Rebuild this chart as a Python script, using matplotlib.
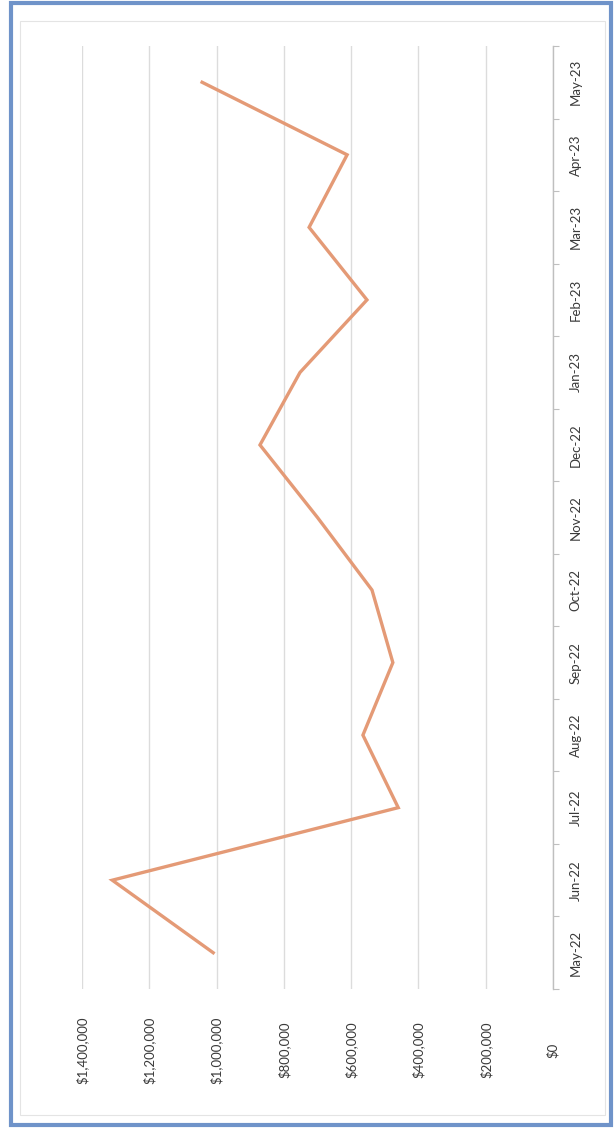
import matplotlib
matplotlib.use("Agg")
import matplotlib.pyplot as plt
from matplotlib.patches import Rectangle
import matplotlib.transforms as mtransforms

months = ["May-22", "Jun-22", "Jul-22", "Aug-22", "Sep-22", "Oct-22", "Nov-22",
          "Dec-22", "Jan-23", "Feb-23", "Mar-23", "Apr-23", "May-23"]
values = [1010000, 1310000, 460000, 565000, 476000, 538000, 700000,
          871000, 752000, 553000, 725000, 612000, 1043000]
value_ticks = [0, 200000, 400000, 600000, 800000, 1000000, 1200000, 1400000]
value_labels = ["$0", "$200,000", "$400,000", "$600,000", "$800,000",
                "$1,000,000", "$1,200,000", "$1,400,000"]

plt.rcParams['font.family'] = ['Lato', 'DejaVu Sans']

W, H = 614, 1128
fig = plt.figure(figsize=(W / 100, H / 100), dpi=100)
fig.patch.set_facecolor("white")

def px(x0, y0, x1, y1):
    return [x0 / W, 1 - y1 / H, (x1 - x0) / W, (y1 - y0) / H]

ax = fig.add_axes(px(82, 46, 553, 989))
ax.set_facecolor("none")

pos = list(range(len(months)))
ax.plot(values, pos, color="#e49a76", lw=2.4, solid_joinstyle="miter", zorder=3)

ax.set_xlim(1400000, 0)
ax.set_ylim(-0.5, len(months) - 0.5)

# value gridlines
ax.set_xticks(value_ticks)
ax.xaxis.grid(True, color="#dcdcdc", lw=1.0)
ax.tick_params(axis="x", length=0, labelbottom=False)
for v, lab in zip(value_ticks, value_labels):
    ax.text(v, -0.0647, lab,
            transform=mtransforms.blended_transform_factory(ax.transData, ax.transAxes),
            rotation=90, ha="center", va="center", fontsize=9.5, color="#3a3a3a")

# category axis on right
for s in ["top", "bottom", "left"]:
    ax.spines[s].set_visible(False)
ax.spines["right"].set_color("#bfbfbf")
ax.spines["right"].set_linewidth(1.0)
ax.yaxis.tick_right()
ax.set_yticks([p - 0.5 for p in pos] + [len(months) - 0.5])
ax.set_yticklabels([])
ax.tick_params(axis="y", which="major", length=4, color="#bfbfbf", direction="out")
ax.set_yticks(pos, minor=True)
ax.set_yticklabels(months, minor=True, rotation=90, va="center", ha="left",
                   fontsize=9.5, color="#3a3a3a")
ax.tick_params(axis="y", which="minor", length=0, pad=12)

# chart area border and outer blue frame
fig.patches.append(Rectangle((20 / W, 1 - 1115 / H), (605 - 20) / W, (1115 - 21) / H,
                             transform=fig.transFigure, fill=False, ec="#e4e4e4", lw=0.8))
fig.patches.append(Rectangle((11 / W, 1 - 1125 / H), (611 - 11) / W, (1125 - 3) / H,
                             transform=fig.transFigure, fill=False, ec="#6f93c9", lw=3.0))

fig.savefig("out.png", dpi=100)
